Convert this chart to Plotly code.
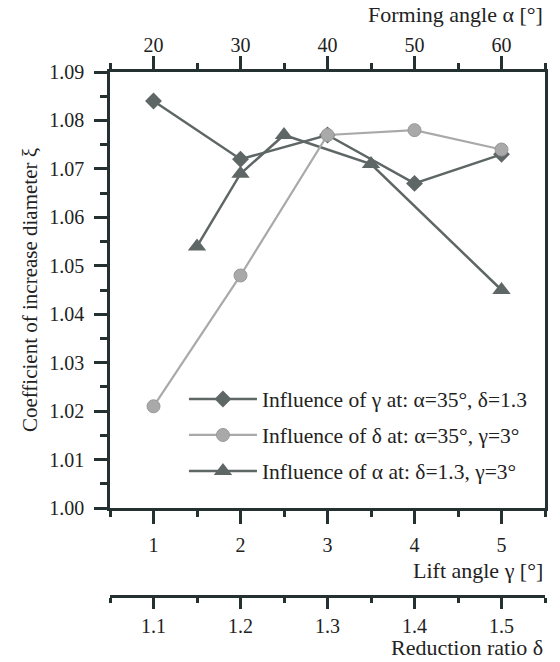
import plotly.graph_objects as go

# ---- data ----
gamma = [1, 2, 3, 4, 5]
xi_gamma = [1.084, 1.072, 1.077, 1.067, 1.073]

delta = [1.1, 1.2, 1.3, 1.4, 1.5]
xi_delta = [1.021, 1.048, 1.077, 1.078, 1.074]

alpha = [25, 30, 35, 45, 60]
xi_alpha = [1.054, 1.069, 1.077, 1.071, 1.045]

gamma_ticks = [1, 2, 3, 4, 5]
delta_ticks = [1.1, 1.2, 1.3, 1.4, 1.5]
alpha_ticks = [20, 30, 40, 50, 60]
y_ticks = [1.00, 1.01, 1.02, 1.03, 1.04, 1.05, 1.06, 1.07, 1.08, 1.09]

names = ["Influence of γ at: α=35°, δ=1.3",
         "Influence of δ at: α=35°, γ=3°",
         "Influence of α at: δ=1.3, γ=3°"]

DARK = "#5f6766"
LIGHT = "#a9a9a9"
AX = "#253131"
FONT = "Liberation Serif"
TXT = "#222222"

fig = go.Figure()
fig.add_trace(go.Scatter(x=gamma, y=xi_gamma, name=names[0], mode="lines+markers",
                         line=dict(color=DARK, width=2.5),
                         marker=dict(symbol="diamond", size=13, color=DARK),
                         xaxis="x", yaxis="y", legendrank=1, legendgroup="a"))
fig.add_trace(go.Scatter(x=alpha, y=xi_alpha, name=names[2], mode="lines+markers",
                         line=dict(color=DARK, width=2.5),
                         marker=dict(symbol="triangle-up", size=16, color=DARK),
                         xaxis="x2", yaxis="y", legendrank=3, legendgroup="c"))
fig.add_trace(go.Scatter(x=delta, y=xi_delta, name=names[1], mode="lines+markers",
                         line=dict(color=LIGHT, width=2.2),
                         marker=dict(symbol="circle", size=13, color=LIGHT,
                                     line=dict(color="#999999", width=1)),
                         xaxis="x3", yaxis="y", legendrank=2, legendgroup="b"))

B = 596  # pixel row of the lower (delta) axis line
P = 662.0 - 72 - (662 - B)
ydom0 = (B - 508) / P

tickfont = dict(family=FONT, size=20, color=TXT)
common = dict(showline=True, linecolor=AX, linewidth=2.5, ticks="outside",
              tickcolor=AX, tickwidth=2.5, ticklen=13, showgrid=False,
              zeroline=False, tickfont=tickfont)

fig.update_layout(
    width=560, height=662,
    margin=dict(l=110, r=15, t=72, b=662 - B),
    plot_bgcolor="white", paper_bgcolor="white",
    font=dict(family=FONT, size=20, color=TXT),
    xaxis=dict(range=[0.5, 5.5], tickvals=gamma_ticks, anchor="y", side="bottom",
               mirror=False, ticklabelstandoff=4,
               minor=dict(tickvals=[0.5, 1.5, 2.5, 3.5, 4.5, 5.5], ticklen=6,
                          ticks="outside", tickcolor=AX, tickwidth=2.5),
               **common),
    xaxis2=dict(range=[15, 65], tickvals=alpha_ticks, anchor="y", side="top",
                overlaying="x", ticklabelstandoff=-4,
                minor=dict(tickvals=[15, 25, 35, 45, 55, 65], ticklen=6,
                           ticks="outside", tickcolor=AX, tickwidth=2.5),
                **common),
    xaxis3=dict(range=[1.05, 1.55], tickvals=delta_ticks, tickformat=".1f",
                anchor="free", position=0, side="bottom", overlaying="x",
                ticklabelstandoff=0,
                minor=dict(tickvals=[1.05, 1.15, 1.25, 1.35, 1.45, 1.55], ticklen=5,
                           ticks="outside", tickcolor=AX, tickwidth=2.5),
                **{**common, "ticklen": 11}),
    yaxis=dict(range=[1.00, 1.09], domain=[ydom0, 1], tickvals=y_ticks,
               tickformat=".2f", mirror=True, ticklabelstandoff=6,
               title=dict(text="Coefficient of increase diameter ξ",
                          font=dict(family=FONT, size=21, color=TXT), standoff=6),
               minor=dict(dtick=0.005, tick0=1.0, ticklen=7, ticks="outside",
                          tickcolor=AX, tickwidth=2.5),
               **common),
    legend=dict(x=0.17, y=0.415, xanchor="left", yanchor="top",
                bgcolor="rgba(0,0,0,0)", font=dict(family=FONT, size=21.5, color=TXT),
                traceorder="grouped", tracegroupgap=5, itemwidth=68),
    showlegend=True,
)

ann_font = dict(family=FONT, size=22, color=TXT)
fig.add_annotation(text="Forming angle α [°]", xref="paper", yref="paper",
                   x=1, y=(B - 15) / P, xanchor="right", yanchor="middle",
                   showarrow=False, font=ann_font)
fig.add_annotation(text="Lift angle γ [°]", xref="paper", yref="paper",
                   x=1, y=(B - 570) / P, xanchor="right", yanchor="middle",
                   showarrow=False, font=ann_font)
fig.add_annotation(text="Reduction ratio δ", xref="paper", yref="paper",
                   x=1, y=(B - 647) / P, xanchor="right", yanchor="middle",
                   showarrow=False, font=ann_font)

fig.write_html("out.html")
